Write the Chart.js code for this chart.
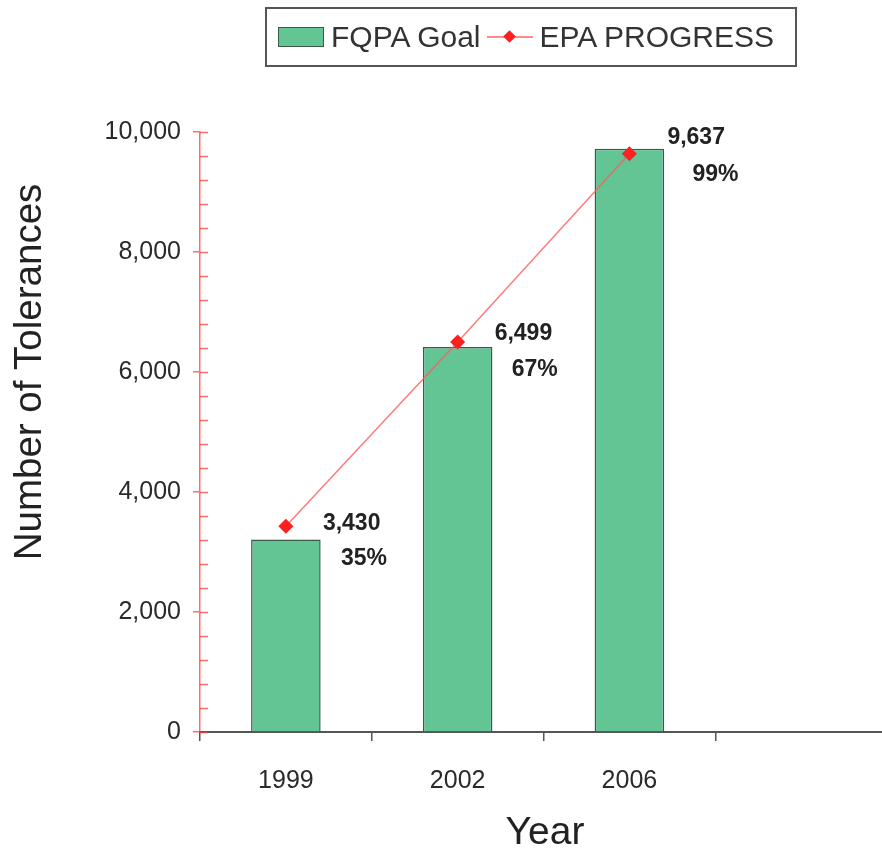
<!DOCTYPE html>
<html lang="en">
<head>
<meta charset="UTF-8">
<title>FQPA Goal vs EPA Progress</title>
<script src="https://cdn.jsdelivr.net/npm/chart.js"></script>
<style>
  html, body { margin: 0; padding: 0; overflow: hidden; background: #fff; }
  body { width: 882px; height: 848px; position: relative; font-family: "Liberation Sans", Arial, sans-serif; }
  #wrap { position: absolute; left: 0; top: 0; width: 895px; height: 848px; }
  #legend {
    position: absolute; left: 265px; top: 7px; width: 528px; height: 56px;
    border: 2px solid #555; display: flex; align-items: center;
    font-size: 30px; color: #333; box-sizing: content-box;
  }
  #legend .item { display: flex; align-items: center; }
  #legend .swatch { width: 44px; height: 18px; border: 1.5px solid #3b5a48; margin: 0 7px 0 11px; }
  #legend .linemark { position: relative; width: 46px; height: 20px; margin: 0 7px 0 6px; }
  #legend .linemark .ln { position: absolute; left: 0; right: 0; top: 9px; height: 2px; background: #ff8a8a; }
  #legend .linemark .dm { position: absolute; left: 18px; top: 5px; width: 9px; height: 9px; background: #ff2020; transform: rotate(45deg); }
</style>
</head>
<body>
<div id="wrap"><canvas id="chart" width="895" height="848"></canvas></div>
<div id="legend"></div>
<script>
  // chart data
  const years = ["1999", "2002", "2006", ""];
  const goalValues = [3208, 6416, 9721];
  const progressValues = [3430, 6499, 9637];
  const progressPercent = ["35%", "67%", "99%"];
  const yTicks = [0, 2000, 4000, 6000, 8000, 10000];

  const GREEN = "#63c593";
  const RED = "#ff2020";
  const AXIS_RED = "rgba(255, 60, 60, 0.75)";
  const FONT = "'Liberation Sans', Arial, sans-serif";

  // build the legend from dataset labels
  function buildLegend(chart) {
    const el = document.getElementById("legend");
    el.innerHTML = "";
    chart.data.datasets.forEach((ds) => {
      const item = document.createElement("div");
      item.className = "item";
      if (ds.type === "bar") {
        item.innerHTML = '<span class="swatch" style="background:' + ds.backgroundColor + '"></span>';
      } else {
        item.innerHTML = '<span class="linemark"><span class="ln"></span><span class="dm"></span></span>';
      }
      const txt = document.createElement("span");
      txt.textContent = ds.label;
      item.appendChild(txt);
      el.appendChild(item);
    });
  }

  // minor / inward tick marks on the y axis, labels, axis titles
  const decorations = {
    id: "decorations",
    afterDraw(chart) {
      const ctx = chart.ctx;
      const y = chart.scales.y;
      const area = chart.chartArea;
      ctx.save();
      ctx.strokeStyle = AXIS_RED;
      ctx.lineWidth = 1.5;
      y.ticks.forEach((t) => {
        const py = Math.round(y.getPixelForValue(t.value)) + 0.5;
        ctx.beginPath();
        ctx.moveTo(area.left, py);
        ctx.lineTo(area.left + 8, py);
        ctx.stroke();
      });

      // y axis title
      ctx.fillStyle = "#222";
      ctx.font = "38.5px " + FONT;
      ctx.textAlign = "center";
      ctx.textBaseline = "middle";
      ctx.translate(30, area.top + area.height * 0.4);
      ctx.rotate(-Math.PI / 2);
      ctx.fillText("Number of Tolerances", 0, 0);
      ctx.restore();

      // x axis title
      ctx.save();
      ctx.fillStyle = "#222";
      ctx.font = "39px " + FONT;
      ctx.textAlign = "center";
      ctx.textBaseline = "alphabetic";
      ctx.fillText("Year", 545, 844);
      ctx.restore();
    },
    afterDatasetsDraw(chart) {
      const ctx = chart.ctx;
      const meta = chart.getDatasetMeta(1);
      const offs = [[37, -3, 55, 32], [37, -8, 54, 28], [38, -16, 63, 21]];
      ctx.save();
      ctx.fillStyle = "#222";
      ctx.font = "bold 23px " + FONT;
      ctx.textAlign = "left";
      ctx.textBaseline = "middle";
      meta.data.forEach((pt, i) => {
        const o = offs[i];
        ctx.fillText(progressValues[i].toLocaleString("en-US"), pt.x + o[0], pt.y + o[1]);
        ctx.fillText(progressPercent[i], pt.x + o[2], pt.y + o[3]);
      });
      ctx.restore();
    }
  };

  const chart = new Chart(document.getElementById("chart"), {
    data: {
      labels: years,
      datasets: [
        {
          type: "bar",
          label: "FQPA Goal",
          data: goalValues,
          backgroundColor: GREEN,
          borderColor: "#3b5a48",
          borderWidth: 1.5,
          barPercentage: 0.405,
          categoryPercentage: 1,
          order: 1
        },
        {
          type: "line",
          label: "EPA PROGRESS",
          data: progressValues,
          borderColor: "rgba(255, 90, 90, 0.8)",
          borderWidth: 1.5,
          pointStyle: "rectRot",
          pointRadius: 6.5,
          pointBackgroundColor: RED,
          pointBorderColor: RED,
          order: 0
        }
      ]
    },
    options: {
      responsive: false,
      animation: false,
      layout: { padding: { top: 132, right: 3, left: 0, bottom: 0 } },
      plugins: {
        legend: { display: false },
        tooltip: { enabled: false }
      },
      scales: {
        x: {
          offset: true,
          afterFit: (s) => { s.height = 116; },
          border: { display: true, color: "#555", width: 2 },
          grid: {
            offset: true,
            drawOnChartArea: false,
            drawTicks: true,
            tickLength: 9,
            color: "#555",
            lineWidth: 1.5
          },
          ticks: {
            color: "#2a2a2a",
            padding: 25,
            font: { family: FONT, size: 25 }
          }
        },
        y: {
          min: 0,
          max: 10000,
          afterFit: (s) => { s.width = 200; },
          afterBuildTicks: (s) => {
            const t = [];
            for (let v = 0; v <= 10000; v += 400) t.push({ value: v });
            s.ticks = t;
          },
          border: { display: true, color: AXIS_RED, width: 1.5 },
          grid: {
            drawOnChartArea: false,
            drawTicks: true,
            tickLength: 7,
            lineWidth: 1.5,
            color: (c) => (c.tick && yTicks.includes(c.tick.value) ? AXIS_RED : "rgba(0,0,0,0)")
          },
          ticks: {
            color: "#2a2a2a",
            padding: 12,
            autoSkip: false,
            font: { family: FONT, size: 25 },
            callback: (v) => (yTicks.includes(v) ? v.toLocaleString("en-US") : "")
          }
        }
      }
    },
    plugins: [decorations]
  });

  buildLegend(chart);
</script>
</body>
</html>
